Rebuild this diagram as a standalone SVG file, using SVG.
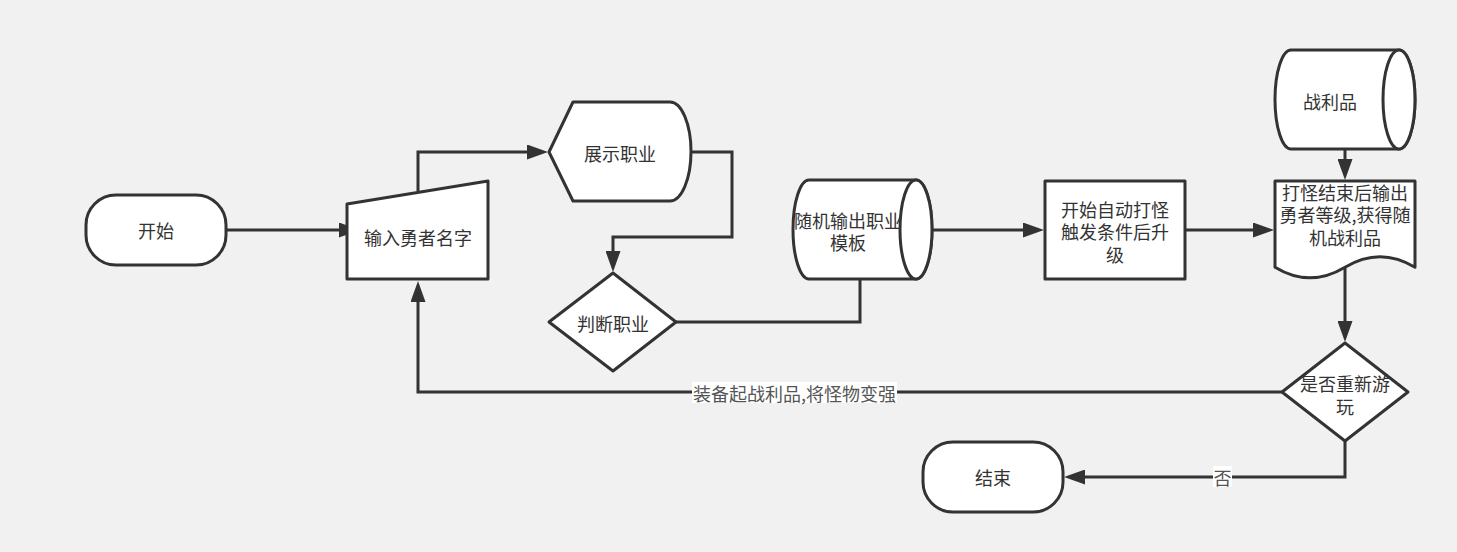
<svg xmlns="http://www.w3.org/2000/svg" width="1457" height="552" viewBox="0 0 1457 552">
<style>
.shape{fill:#ffffff;stroke:#333333;stroke-width:3;stroke-linejoin:round}
.edge{fill:none;stroke:#333333;stroke-width:3;marker-end:url(#arr)}
.edge.plain{marker-end:none}
.t{font-family:"Noto Sans CJK SC","Noto Sans",sans-serif;font-size:18px;fill:#333333;text-anchor:middle;dominant-baseline:central}
.lbl{font-family:"Noto Sans CJK SC","Noto Sans",sans-serif;font-size:18px;fill:#555555;text-anchor:middle;dominant-baseline:central}
.lblbg{fill:#ffffff;stroke:none}
</style>
<defs>
<marker id="arr" markerWidth="22" markerHeight="15" refX="1" refY="7.5" orient="auto" markerUnits="userSpaceOnUse">
<path d="M0,0 L21,7.5 L0,15 Z" fill="#333333"/>
</marker>
</defs>
<rect x="0" y="0" width="1457" height="552" fill="#f1f1f1"/>

<g id="connectors">
<path class="edge" d="M226,230 H340"/>
<path class="edge" d="M418,191 V152 H528"/>
<path class="edge" d="M691,152 H732 V237 H613 V252"/>
<path class="edge plain" d="M676,322 H860 V279"/>
<path class="edge" d="M932,230 H1024"/>
<path class="edge" d="M1185,230 H1254"/>
<path class="edge" d="M1345,150 V160"/>
<path class="edge" d="M1345,267 V322"/>
<path class="edge" d="M1282,392 H418 V301"/>
<path class="edge" d="M1345,441 V477 H1084"/>
<rect class="lblbg" x="692" y="382" width="205" height="21"/>
<text class="lbl" x="794.5" y="392.5">装备起战利品,将怪物变强</text>
<rect class="lblbg" x="1213" y="466" width="19" height="21"/>
<text class="lbl" x="1222.5" y="477">否</text>
</g>

<g id="start">
<rect class="shape" x="86" y="195" width="140" height="70" rx="30" ry="30"/>
<text class="t" x="156" y="230">开始</text>
</g>

<g id="input-name">
<polygon class="shape" points="347,204 488,181 488,279 347,279"/>
<text class="t" x="418" y="237">输入勇者名字</text>
</g>

<g id="show-job">
<path class="shape" d="M549,152 L573,102 H670 A21,49.5 0 0 1 670,201 H573 Z"/>
<text class="t" x="620" y="153">展示职业</text>
</g>

<g id="judge-job">
<polygon class="shape" points="549,322 613,273 676,322 613,371"/>
<text class="t" x="613" y="323">判断职业</text>
</g>

<g id="job-template">
<path class="shape" d="M809,180 H916 A16,49.5 0 0 1 916,279 H809 A16,49.5 0 0 1 809,180 Z"/>
<text class="t" x="848" y="220"><tspan x="848" y="220">随机输出职业</tspan><tspan x="848" y="242">模板</tspan></text>
<ellipse class="shape" cx="916" cy="229.5" rx="16" ry="49.5"/>
</g>

<g id="auto-fight">
<rect class="shape" x="1045" y="181" width="140" height="98"/>
<text class="t" x="1115" y="208.5"><tspan x="1115" y="208.5">开始自动打怪</tspan><tspan x="1115" y="231">触发条件后升</tspan><tspan x="1115" y="253.5">级</tspan></text>
</g>

<g id="loot">
<path class="shape" d="M1291,50 H1399 A16,49.5 0 0 1 1399,149 H1291 A16,49.5 0 0 1 1291,50 Z"/>
<ellipse class="shape" cx="1399" cy="99.5" rx="16" ry="49.5"/>
<text class="t" x="1330" y="101">战利品</text>
</g>

<g id="fight-result">
<path class="shape" d="M1275,181 H1415 V267.3 Q1380,246.2 1345,267.3 Q1310,288.4 1275,267.3 Z"/>
<text class="t" x="1345" y="191.5"><tspan x="1345" y="191.5">打怪结束后输出</tspan><tspan x="1345" y="214">勇者等级,获得随</tspan><tspan x="1345" y="236.5">机战利品</tspan></text>
</g>

<g id="replay">
<polygon class="shape" points="1282,392 1345,343 1408,392 1345,441"/>
<text class="t" x="1345" y="383"><tspan x="1345" y="383">是否重新游</tspan><tspan x="1345" y="405.5">玩</tspan></text>
</g>

<g id="end">
<rect class="shape" x="923" y="442" width="140" height="70" rx="30" ry="30"/>
<text class="t" x="993" y="477">结束</text>
</g>
</svg>
